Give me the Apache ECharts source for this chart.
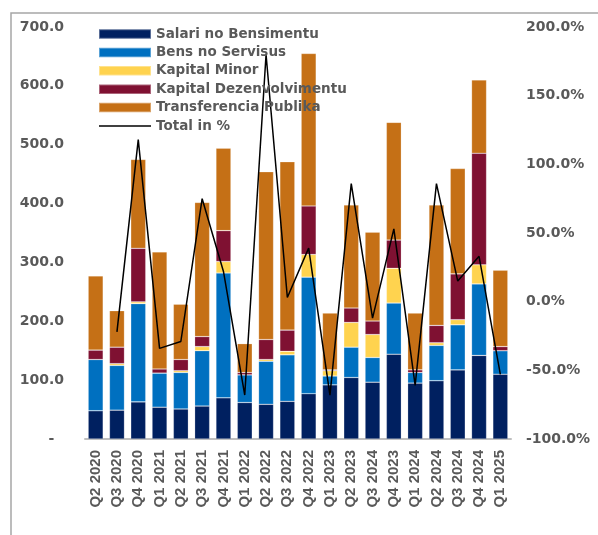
<!DOCTYPE html>
<html>
<head>
<meta charset="utf-8">
<script src="https://cdn.jsdelivr.net/npm/echarts@6/dist/echarts.min.js"></script>
<style>html,body{margin:0;padding:0;background:#fff}#c{width:598px;height:535px}</style>
</head>
<body>
<div id="c"></div>
<script>
const categories = ['Q2 2020','Q3 2020','Q4 2020','Q1 2021','Q2 2021','Q3 2021','Q4 2021','Q1 2022','Q2 2022','Q3 2022','Q4 2022','Q1 2023','Q2 2023','Q3 2024','Q4 2023','Q1 2024','Q2 2024','Q3 2024','Q4 2024','Q1 2025'];
const salari = [48,49,63,54,51,56,70,62,59,64,77,92,104.5,96.5,144,95,99,117.5,142,110];
const bens = [87,76,167,58,62,94,212,47,73,79,198,15,51.5,42,87,18,60,76.5,121.5,40];
const kapitalMinor = [0,3,3,0,3,7,19.5,0,3,6,38.5,9,42,39,59,0,4.5,8.7,32.5,0];
const kapitalDez = [16,28,91,7,19,17,52.5,4,34,36,82.5,1.5,24.6,23,48,4.5,29.5,77.8,189.5,7];
const transferencia = [126,62,151,199,94,228,140,49,285,286,259,96.5,175,151,200,96.5,204.5,179,124.5,129.7];
const totalPct = [null,-22,118,-34,-29,75,22,-68,180,3,39,-68,86,-12,53,-61,86,15,33,-53];

const labelColor = '#595959';
const axFont = {color: labelColor, fontFamily: 'DejaVu Sans', fontWeight: 'bold', fontSize: 14};
const chart = echarts.init(document.getElementById('c'), null, {renderer: 'canvas'});
const barStyle = c => ({color: c, borderColor: 'rgba(255,255,255,0.35)', borderWidth: 0.6});
const mkBar = (name, data, c) => ({name, type: 'bar', stack: 'a', data, barWidth: 15, itemStyle: barStyle(c), emphasis: {disabled: true}});
chart.setOption({
  animation: false,
  graphic: [{type: 'rect', shape: {x: 11, y: 13, width: 620, height: 560}, style: {fill: 'none', stroke: '#a6a6a6', lineWidth: 1.5}, silent: true}],
  grid: {left: 85, right: 87, top: 27, bottom: 96},
  legend: {
    orient: 'vertical', left: 98, top: 27, padding: 0, itemWidth: 52, itemHeight: 9.5, itemGap: 4.4,
    icon: 'rect',
    textStyle: {color: labelColor, fontFamily: 'DejaVu Sans', fontWeight: 'bold', fontSize: 13.5},
    data: ['Salari no Bensimentu','Bens no Servisus','Kapital Minor','Kapital Dezenvolvimentu','Transferencia Publika',
      {name: 'Total in %', icon: 'path://M0,0H52V1.5H0Z'}]
  },
  xAxis: {
    type: 'category', data: categories,
    axisLine: {lineStyle: {color: '#bfbfbf', width: 2}},
    axisTick: {show: false},
    axisLabel: {rotate: 90, margin: 11, color: labelColor, fontFamily: 'Liberation Sans', fontWeight: 'bold', fontSize: 15, interval: 0}
  },
  yAxis: [
    {type: 'value', min: 0, max: 700, interval: 100, splitLine: {show: false}, axisLine: {show: false}, axisTick: {show: false},
     axisLabel: Object.assign({margin: 21, formatter: v => v === 0 ? '-  ' : v.toFixed(1)}, axFont)},
    {type: 'value', min: -100, max: 200, interval: 50, splitLine: {show: false}, axisLine: {show: false}, axisTick: {show: false},
     axisLabel: Object.assign({margin: 15, formatter: v => v.toFixed(1) + '%'}, axFont)}
  ],
  series: [
    mkBar('Salari no Bensimentu', salari, '#002060'),
    mkBar('Bens no Servisus', bens, '#0070C0'),
    mkBar('Kapital Minor', kapitalMinor, '#FFD34F'),
    mkBar('Kapital Dezenvolvimentu', kapitalDez, '#7F1132'),
    mkBar('Transferencia Publika', transferencia, '#C57016'),
    {name: 'Total in %', type: 'line', yAxisIndex: 1, data: totalPct, symbol: 'none', connectNulls: false,
     lineStyle: {color: '#000', width: 1.5}, itemStyle: {color: '#000'}, emphasis: {disabled: true}}
  ]
});
</script>
</body>
</html>
